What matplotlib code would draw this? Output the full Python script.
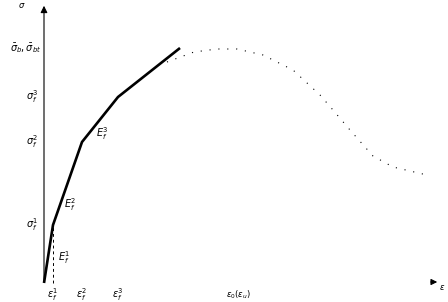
import matplotlib
matplotlib.use("Agg")
import matplotlib.pyplot as plt

# bilinear/trilinear approximation (strain, stress) - arbitrary units
eps_lin = [0, 9, 38, 74, 136]
sig_lin = [0, 58, 141, 186, 235]

# measured curve (dotted)
eps_curve = [123, 150, 173, 193, 219, 249, 276, 289, 306, 321, 329, 349, 383]
sig_curve = [221, 231, 234, 234, 228, 213, 188, 173, 153, 136, 127, 116, 108]

sig_ticks = [58, 141, 186, 235]
sig_labels = [r'$\sigma_f^1$', r'$\sigma_f^2$', r'$\sigma_f^3$', r'$\bar{\sigma}_b,\bar{\sigma}_{bt}$']
eps_ticks = [9, 38, 74]
eps_labels = [r'$\varepsilon_f^1$', r'$\varepsilon_f^2$', r'$\varepsilon_f^3$']

fig = plt.figure(figsize=(4.48, 3.02), dpi=100)
ax = fig.add_axes([0, 0, 1, 1])
ax.set_xlim(-44, 404)
ax.set_ylim(-19, 283)
ax.axis('off')

# axes with arrows
ax.annotate('', xy=(0, 280), xytext=(0, 0),
            arrowprops=dict(arrowstyle='-|>', color='black', lw=0.8, mutation_scale=10))
ax.annotate('', xy=(396, 1), xytext=(384, 1),
            arrowprops=dict(arrowstyle='-|>', color='black', lw=0.8, mutation_scale=9))
ax.text(-22, 278, r'$\sigma$', fontsize=6, ha='center', va='center')
ax.text(398, -5, r'$\varepsilon$', fontsize=6, ha='center', va='center')

ax.plot(eps_lin, sig_lin, color='black', lw=1.9, solid_capstyle='butt')
ax.plot(eps_curve, sig_curve, color='black', lw=0.8, linestyle=(0, (1, 7)))
ax.plot([eps_lin[1], eps_lin[1]], [0, sig_lin[1]], color='black', lw=0.7, linestyle=(0, (3, 3)))

for y, lab in zip(sig_ticks, sig_labels):
    ax.text(-6 if y < 230 else -3, y, lab, fontsize=7, ha='right', va='center')
for x, lab in zip(eps_ticks, eps_labels):
    ax.text(x, -12, lab, fontsize=7, ha='center', va='center')

ax.text(14, 25, r'$E_f^1$', fontsize=7, ha='left', va='center')
ax.text(20, 78, r'$E_f^2$', fontsize=7, ha='left', va='center')
ax.text(52, 149, r'$E_f^3$', fontsize=7, ha='left', va='center')
ax.text(194, -12, r'$\varepsilon_0(\varepsilon_u)$', fontsize=6, ha='center', va='center')

fig.savefig('out.png', dpi=100)
